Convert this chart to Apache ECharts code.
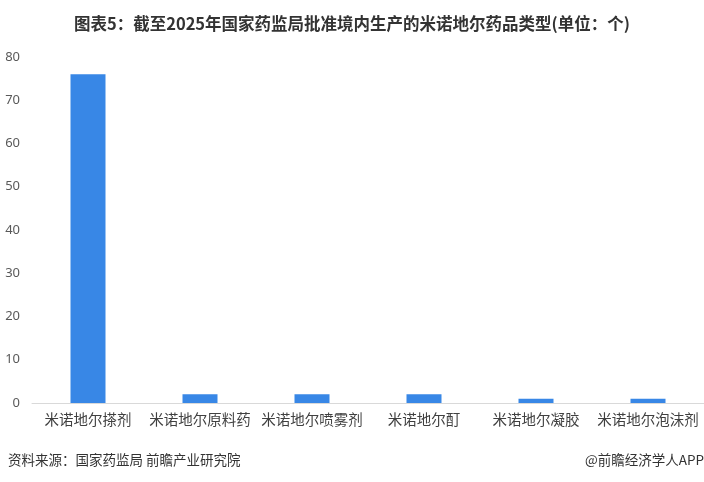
<!DOCTYPE html>
<html><head><meta charset="utf-8">
<script src="https://cdn.jsdelivr.net/npm/echarts@6/dist/echarts.min.js"></script>
<style>html,body{margin:0;padding:0;background:#fff}#c{width:704px;height:482px}</style>
</head><body><div id="c"></div>
<script>
const categories = ['米诺地尔搽剂','米诺地尔原料药','米诺地尔喷雾剂','米诺地尔酊','米诺地尔凝胶','米诺地尔泡沫剂'];
const values = [76, 2, 2, 2, 1, 1];
const titleText = '图表5：截至2025年国家药监局批准境内生产的米诺地尔药品类型(单位：个)';
const sourceText = '资料来源：国家药监局 前瞻产业研究院';
const brandText = '@前瞻经济学人APP';
const chart = echarts.init(document.getElementById('c'));
chart.setOption({
  animation: false,
  title: {text: titleText, left: 'center', top: 10, textStyle: {fontSize: 16.5, fontWeight: 'bold', color: '#333', fontFamily: 'Noto Sans CJK SC'}},
  graphic: [
    {type: 'text', left: 8, top: 453, style: {text: sourceText, fontSize: 13.5, fill: '#333', fontFamily: 'Noto Sans CJK SC'}},
    {type: 'text', right: 0, top: 453, style: {text: brandText, fontSize: 13.5, fill: '#333', fontFamily: 'Noto Sans CJK SC'}}
  ],
  grid: {left: 32, right: 0, top: 57, bottom: 79, containLabel: false},
  xAxis: {type: 'category', data: categories,
    axisLine: {lineStyle: {color: '#d9d9d9'}}, axisTick: {show: false},
    axisLabel: {color: '#404040', fontSize: 14.5, margin: 9, interval: 0, fontFamily: 'Noto Sans CJK SC'}},
  yAxis: {type: 'value', min: 0, max: 80, interval: 10,
    splitLine: {show: false}, axisLine: {show: false}, axisTick: {show: false},
    axisLabel: {color: '#595959', fontSize: 13, margin: 12, fontFamily: 'Noto Sans'}},
  series: [{type: 'bar', data: values, barWidth: 35, itemStyle: {color: '#3887e6'}}]
});
</script></body></html>
